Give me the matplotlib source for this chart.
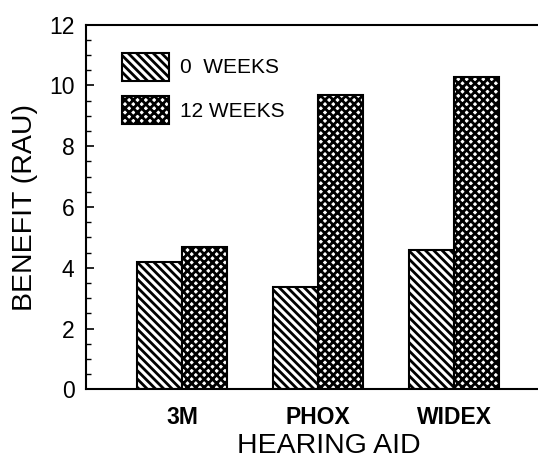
import numpy as np
import matplotlib.pyplot as plt

plt.rcParams['font.family'] = ['Liberation Sans', 'DejaVu Sans']
plt.rcParams['hatch.linewidth'] = 2.0

aids = ["3M", "PHOX", "WIDEX"]
weeks0 = [4.2, 3.38, 4.58]
weeks12 = [4.69, 9.70, 10.27]
series_labels = ["0  WEEKS", "12 WEEKS"]

fig = plt.figure(figsize=(5.38, 4.57), dpi=100)
ax = fig.add_axes([0.159, 0.148, 0.845, 0.798])

x = np.arange(1, len(aids) + 1)
w = 0.33
ax.bar(x - w / 2, weeks0, w, color="white", edgecolor="black", hatch="\\\\\\\\",
       linewidth=1.5, label=series_labels[0])
ax.bar(x + w / 2, weeks12, w, color="white", edgecolor="black", hatch="xxxx",
       linewidth=1.5, label=series_labels[1])

ax.set_xlim(0.29, 3.63)
ax.set_ylim(0, 12)
ax.set_yticks(np.arange(0, 13, 2))
ax.set_yticks(np.arange(0, 12.1, 0.5), minor=True)
ax.set_xticks(x)
ax.set_xticklabels(aids, fontsize=16.5, fontweight="bold")
ax.tick_params(axis="y", direction="in", length=6, width=1.2, labelsize=16.5, pad=8)
ax.tick_params(axis="y", which="minor", direction="in", length=3.5, width=1)
ax.tick_params(axis="x", length=0, pad=12)

ax.spines["right"].set_visible(False)
for s in ["left", "top", "bottom"]:
    ax.spines[s].set_linewidth(1.5)

ax.set_ylabel("BENEFIT (RAU)", fontsize=20.5, labelpad=8)
ax.set_xlabel("HEARING AID", fontsize=20.5, labelpad=9)
ax.xaxis.set_label_coords(0.535, -0.12, transform=ax.transAxes)
ax.xaxis.label.set_va("top")

ax.legend(loc="upper left", bbox_to_anchor=(0.038, 0.975), frameon=False, fontsize=15,
          handlelength=2.3, handleheight=1.7, handletextpad=0.5, labelspacing=0.75)

fig.savefig("out.png", dpi=100)
